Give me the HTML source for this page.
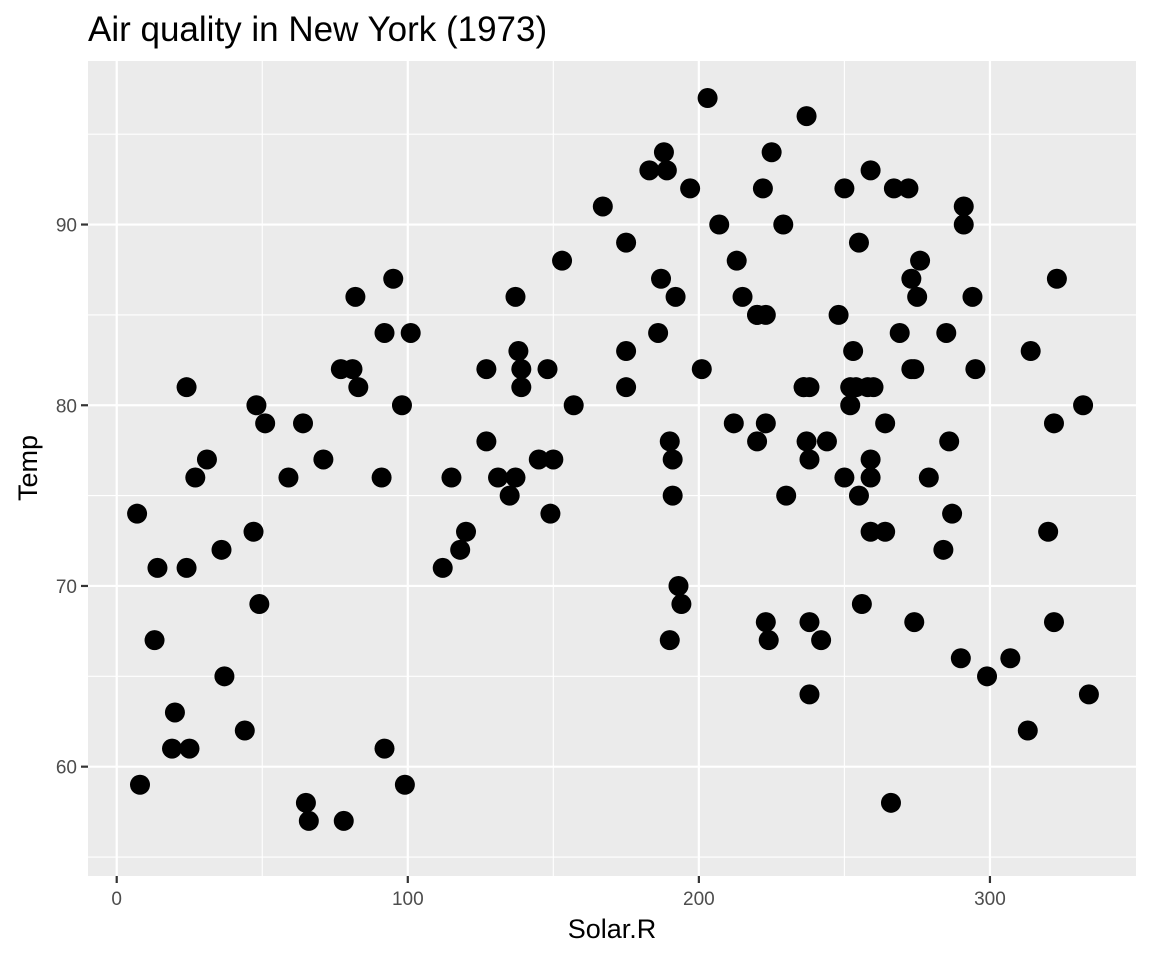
<!DOCTYPE html>
<html><head><meta charset="utf-8">
<style>
body{margin:0;background:#fff;}
svg{display:block;font-family:"Liberation Sans",sans-serif;}
</style></head>
<body>
<svg id="chart" width="1152" height="960" xmlns="http://www.w3.org/2000/svg">
<rect width="1152" height="960" fill="#fff"/>
<text x="88" y="41" font-size="35" fill="#000">Air quality in New York (1973)</text>
<rect x="88" y="61" width="1048" height="815" fill="#ebebeb"/>
<g id="grid"></g>
<g id="axes"></g>
<g id="points"></g>
<text x="612" y="938" font-size="27" text-anchor="middle" fill="#000">Solar.R</text>
<text transform="translate(37,468) rotate(-90)" font-size="27" text-anchor="middle" fill="#000">Temp</text>
</svg>
<script>
const solarR = [190,118,149,313,299,99,19,194,256,290,274,65,334,307,78,322,44,8,320,25,92,66,266,13,252,223,279,286,287,242,186,220,264,127,273,291,323,259,250,148,332,322,191,284,37,120,137,150,59,91,250,135,127,47,98,31,138,269,248,236,101,175,314,276,267,272,175,139,264,175,291,48,260,274,285,187,220,7,258,295,294,223,81,82,213,275,253,254,83,24,77,255,229,207,222,137,192,273,157,64,71,51,115,244,190,259,36,255,212,238,215,153,203,225,237,188,167,197,183,189,95,92,252,220,230,259,236,259,238,24,112,237,224,27,238,201,238,14,139,49,20,193,145,191,131,223];
const temp = [67,72,74,62,65,59,61,69,69,66,68,58,64,66,57,68,62,59,73,61,61,57,58,67,81,79,76,78,74,67,84,85,79,82,87,90,87,93,92,82,80,79,77,72,65,73,76,77,76,76,76,75,78,73,80,77,83,84,85,81,84,83,83,88,92,92,89,82,73,81,91,80,81,82,84,87,85,74,81,82,86,85,82,86,88,86,83,81,81,81,82,89,90,90,92,86,86,82,80,79,77,79,76,78,78,77,72,75,79,81,86,88,97,94,96,94,91,92,93,93,87,84,80,78,75,73,81,76,77,71,71,78,67,76,68,82,64,71,81,69,63,70,77,75,76,68];
const xTicks = [0,100,200,300];
const yTicks = [60,70,80,90];
const xMinor = [50,150,250];
const yMinor = [55,65,75,85,95];

const P = {l:89.5,r:1136.5,t:61,b:876};
const xDom = [-9.35,350.35], yDom = [53.95,99.05];
const xS = v => P.l + (v - xDom[0]) / (xDom[1]-xDom[0]) * (P.r-P.l);
const yS = v => P.b - (v - yDom[0]) / (yDom[1]-yDom[0]) * (P.b-P.t);
const NS = "http://www.w3.org/2000/svg";
function mk(tag, attrs, parent){const e=document.createElementNS(NS,tag);for(const k in attrs)e.setAttribute(k,attrs[k]);parent.appendChild(e);return e;}
const grid=document.getElementById('grid'), axes=document.getElementById('axes'), pts=document.getElementById('points');
xMinor.forEach(v=>{const l=mk('line',{x1:xS(v),x2:xS(v),y1:P.t,y2:P.b,stroke:'#fff','stroke-width':1.1},grid);

});
yMinor.forEach(v=>{const l=mk('line',{x1:88,x2:1136,y1:yS(v),y2:yS(v),stroke:'#fff','stroke-width':1.1},grid);

});
xTicks.forEach(v=>{const l=mk('line',{x1:xS(v),x2:xS(v),y1:P.t,y2:P.b,stroke:'#fff','stroke-width':2.2},grid);


const t=mk('line',{x1:xS(v),x2:xS(v),y1:P.b,y2:P.b+7,stroke:'#333','stroke-width':2.2},axes);


const tx=mk('text',{x:xS(v),y:905,'font-size':19,'text-anchor':'middle',fill:'#4d4d4d'},axes);tx.textContent=v;

});
yTicks.forEach(v=>{const l=mk('line',{x1:88,x2:1136,y1:yS(v),y2:yS(v),stroke:'#fff','stroke-width':2.2},grid);


const t=mk('line',{x1:81,x2:88,y1:yS(v),y2:yS(v),stroke:'#333','stroke-width':2.2},axes);


const tx=mk('text',{x:77,y:yS(v)+7,'font-size':19,'text-anchor':'end',fill:'#4d4d4d'},axes);tx.textContent=v;

});
solarR.forEach((s,i)=>{const c=mk('circle',{cx:xS(s),cy:yS(temp[i]),r:10,fill:'#000'},pts);

});
</script>
</body></html>
